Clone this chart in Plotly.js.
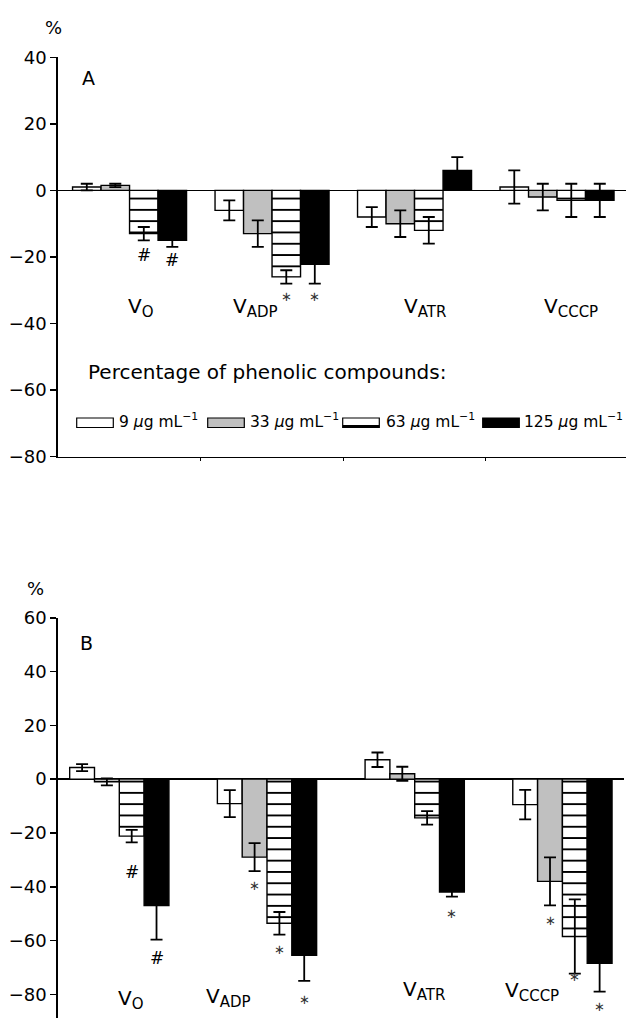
<!DOCTYPE html>
<html>
<head>
<meta charset="utf-8">
<script src="https://cdn.plot.ly/plotly-3.0.1.min.js"></script>
<style>html,body{margin:0;padding:0;background:#fff;}#chart{width:626px;height:1018px;}</style>
</head>
<body>
<div id="chart"></div>
<script>
// ---------- data ----------
const categories = ['V', 'V', 'V', 'V'];
const categorySubs = ['O', 'ADP', 'ATR', 'CCCP'];
const seriesNames = ['9 <i>μ</i>g mL<sup>−1</sup>', '33 <i>μ</i>g mL<sup>−1</sup>', '63 <i>μ</i>g mL<sup>−1</sup>', '125 <i>μ</i>g mL<sup>−1</sup>'];
const legendTitle = 'Percentage of phenolic compounds:';

// Panel A
const a9 = [1, -6, -8, 1];
const a9err = [1, 3, 3, 5];
const a33 = [1.5, -13, -10, -2];
const a33err = [0.5, 4, 4, 4];
const a63 = [-13, -26, -12, -3];
const a63err = [2, 2, 4, 5];
const a125 = [-15, -22.2, 6, -3];
const a125err = [2, 5.8, 4, 5];

// Panel B
const b9 = [4.3, -9.1, 7.2, -9.5];
const b9err = [1.3, 5, 2.7, 5.5];
const b33 = [-1, -29, 2, -38];
const b33err = [1.3, 5.2, 2.6, 8.9];
const b63 = [-21.2, -53.6, -14.4, -58.5];
const b63err = [2.3, 4.2, 2.5, 13.8];
const b125 = [-47, -65.5, -42, -68.5];
const b125err = [12.7, 9.5, 1.7, 10.5];

// significance marks (text) and where they were read (value axis)
const sigA63 = ['#', '∗', null, null];
const sigA63y = [-19.5, -31.9, null, null];
const sigA125 = ['#', '∗', null, null];
const sigA125y = [-20.9, -31.9, null, null];
const sigB33 = [null, '∗', null, '∗'];
const sigB33y = [null, -39.7, null, -52.7];
const sigB63 = ['#', '∗', null, '∗'];
const sigB63y = [-34.5, -63.5, null, -73.2];
const sigB125 = ['#', '∗', '∗', '∗'];
const sigB125y = [-66.4, -81.9, -49.9, -84.7];

const yTicksA = [-80, -60, -40, -20, 0, 20, 40];
const yTicksB = [-80, -60, -40, -20, 0, 20, 40, 60];

// ---------- helpers ----------
const W = 626, H = 1018;
const FONT = 'DejaVu Sans';
const px = x => x / W;
const py = y => 1 - y / H;
const xs = [0, 1, 2, 3];

const fills = ['#ffffff', '#c0c0c0', '#ffffff', '#000000'];
const wA = 0.2, wB = 0.168;

function barTrace(vals, errs, k, w, xa, ya, name) {
  const t = {
    type: 'bar', x: xs, y: vals, name: name,
    width: w, offset: -2 * w + k * w,
    xaxis: xa, yaxis: ya,
    marker: { color: fills[k], line: { color: '#000', width: 1.4 } },
    error_y: { type: 'data', array: errs, visible: true, color: '#000', thickness: 1.8, width: 6 },
    showlegend: false, hoverinfo: 'skip'
  };
  if (k === 2) {
    t.marker.pattern = { shape: '-', fgcolor: '#000', bgcolor: '#fff', size: 11.3, solidity: 0.17, fillmode: 'replace' };
  }
  return t;
}

const data = [
  barTrace(a9, a9err, 0, wA, 'x', 'y', seriesNames[0]),
  barTrace(a33, a33err, 1, wA, 'x', 'y', seriesNames[1]),
  barTrace(a63, a63err, 2, wA, 'x', 'y', seriesNames[2]),
  barTrace(a125, a125err, 3, wA, 'x', 'y', seriesNames[3]),
  barTrace(b9, b9err, 0, wB, 'x2', 'y2', seriesNames[0]),
  barTrace(b33, b33err, 1, wB, 'x2', 'y2', seriesNames[1]),
  barTrace(b63, b63err, 2, wB, 'x2', 'y2', seriesNames[2]),
  barTrace(b125, b125err, 3, wB, 'x2', 'y2', seriesNames[3])
];

const annotations = [];
function sig(texts, ys, k, w, xr, yr) {
  texts.forEach((t, i) => {
    if (!t) return;
    annotations.push({
      x: xs[i] - 2 * w + k * w + w / 2, y: ys[i], xref: xr, yref: yr,
      text: t, showarrow: false, xanchor: 'center', yanchor: 'middle',
      font: { family: FONT, size: t === '#' ? 17 : 13, color: t === '#' ? '#000' : '#333' }
    });
  });
}
sig(sigA63, sigA63y, 2, wA, 'x', 'y');
sig(sigA125, sigA125y, 3, wA, 'x', 'y');
sig(sigB33, sigB33y, 1, wB, 'x2', 'y2');
sig(sigB63, sigB63y, 2, wB, 'x2', 'y2');
sig(sigB125, sigB125y, 3, wB, 'x2', 'y2');

function paperText(text, x, y, size, xanchor) {
  annotations.push({
    x: px(x), y: py(y), xref: 'paper', yref: 'paper', text: text, showarrow: false,
    xanchor: xanchor || 'center', yanchor: 'middle',
    font: { family: FONT, size: size, color: '#000' }
  });
}
function catText(i) {
  return categories[i] + '<sub><span style="font-size:15px">' + categorySubs[i] + '</span></sub>';
}
// category labels
const catA_x = [141, 255, 425, 571], catA_y = 307;
const catB_x = [131, 228, 424, 532], catB_y = [999, 997, 990, 991];
categories.forEach((c, i) => paperText(catText(i), catA_x[i], catA_y, 20));
categories.forEach((c, i) => paperText(catText(i), catB_x[i], catB_y[i], 20));

paperText('%', 53, 27, 18);
paperText('%', 35, 588, 18);
paperText('A', 89, 78, 19);
paperText('B', 86, 643, 19);
paperText(legendTitle, 86, 372, 20, 'left');

// legend swatches + labels
const shapes = [];
const legX = [76.7, 207.7, 342.7, 482.7];
const legTextX = [117, 248, 384, 522];
const legY0 = 418, legY1 = 427.5;
for (let k = 0; k < 4; k++) {
  shapes.push({
    type: 'rect', xref: 'paper', yref: 'paper',
    x0: px(legX[k]), x1: px(legX[k] + 36.6), y0: py(legY1), y1: py(legY0),
    fillcolor: fills[k], line: { color: '#000', width: 1.2 }
  });
  if (k === 2) {
    shapes.push({
      type: 'rect', xref: 'paper', yref: 'paper',
      x0: px(legX[k]), x1: px(legX[k] + 36.6), y0: py(legY1), y1: py(legY1 - 2.6),
      fillcolor: '#000', line: { width: 0 }
    });
  }
  paperText(seriesNames[k], legTextX[k], 421, 15.5, 'left');
}

const tickFont = { family: FONT, size: 18, color: '#000' };
const layout = {
  width: W, height: H,
  margin: { l: 0, r: 0, t: 0, b: 0 },
  paper_bgcolor: '#fff', plot_bgcolor: 'rgba(0,0,0,0)',
  barmode: 'overlay',
  showlegend: false,
  font: { family: FONT, color: '#000' },
  xaxis: {
    domain: [px(58.3), 1], range: [-0.5, 3.484], anchor: 'y',
    showline: true, linecolor: '#000', linewidth: 1.6,
    tickvals: [0.5, 1.5, 2.5], ticks: 'outside', ticklen: 3, tickwidth: 1.2, tickcolor: '#000',
    showticklabels: false, showgrid: false, zeroline: false, fixedrange: true
  },
  yaxis: {
    domain: [py(456.6), py(57.3)], range: [-80, 40], anchor: 'x',
    tickvals: yTicksA, ticks: 'outside', ticklen: 6, tickwidth: 1.6, tickcolor: '#000',
    showline: true, linecolor: '#000', linewidth: 2,
    zeroline: true, zerolinecolor: '#000', zerolinewidth: 1.6,
    showgrid: false, tickfont: tickFont, fixedrange: true
  },
  xaxis2: {
    domain: [px(58.3), px(624)], range: [-0.413, 3.417], anchor: 'y2',
    showline: false, ticks: '', showticklabels: false, showgrid: false, zeroline: false, fixedrange: true
  },
  yaxis2: {
    domain: [0, py(617.7)], range: [-88.8, 60], anchor: 'x2',
    tickvals: yTicksB, ticks: 'outside', ticklen: 6, tickwidth: 1.6, tickcolor: '#000',
    showline: true, linecolor: '#000', linewidth: 2,
    zeroline: true, zerolinecolor: '#000', zerolinewidth: 1.6,
    showgrid: false, tickfont: tickFont, fixedrange: true
  },
  annotations: annotations,
  shapes: shapes
};

Plotly.newPlot('chart', data, layout, { staticPlot: true, displayModeBar: false });
</script>
</body>
</html>
